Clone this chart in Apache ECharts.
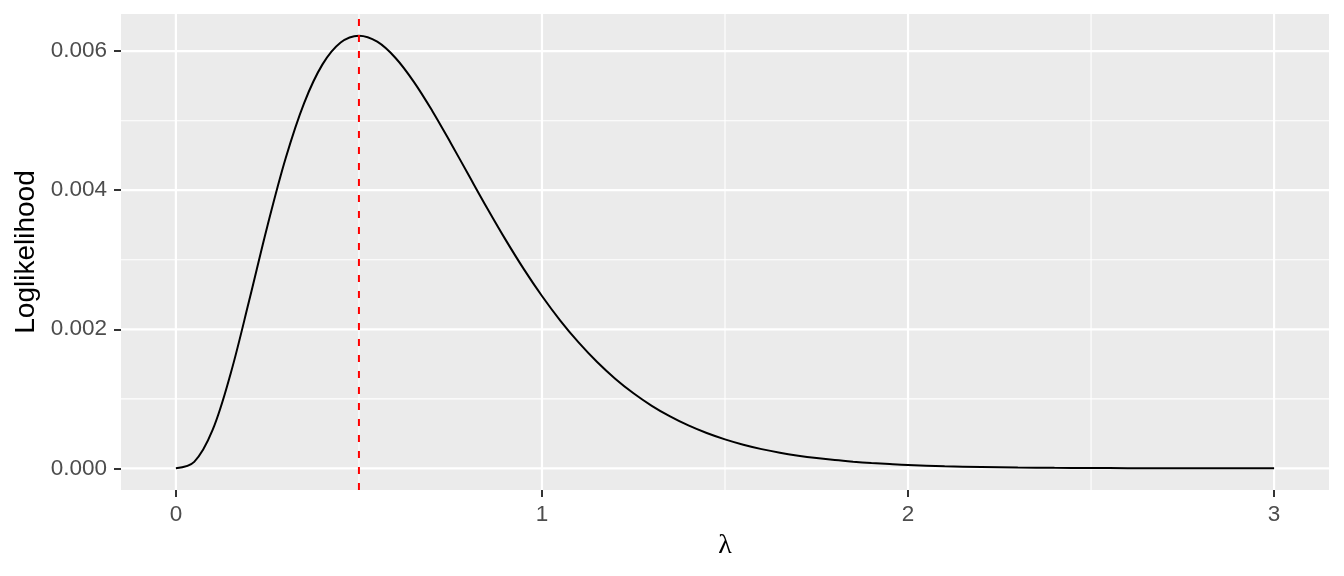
<!DOCTYPE html>
<html>
<head>
<meta charset="utf-8">
<script src="https://cdn.jsdelivr.net/npm/echarts@6/dist/echarts.min.js"></script>
<style>html,body{margin:0;padding:0;background:#fff}#c{width:1344px;height:576px}</style>
</head>
<body>
<div id="c"></div>
<script>
const lambdaValues = [0,0.05,0.1,0.15,0.2,0.25,0.3,0.35,0.4,0.45,0.5,0.55,0.6,0.65,0.7,0.75,0.8,0.85,0.9,0.95,1,1.05,1.1,1.15,1.2,1.25,1.3,1.35,1.4,1.45,1.5,1.55,1.6,1.65,1.7,1.75,1.8,1.85,1.9,1.95,2,2.1,2.2,2.3,2.4,2.5,2.6,2.7,2.8,2.9,3];
const likelihoodValues = [0,0.000093,0.000549,0.001372,0.00241,0.003486,0.004463,0.00525,0.005806,0.006124,0.006223,0.006136,0.005902,0.005559,0.005144,0.004687,0.004214,0.003744,0.003293,0.002869,0.002479,0.002126,0.001811,0.001533,0.00129,0.00108,0.0009,0.000747,0.000617,0.000508,0.000417,0.00034,0.000277,0.000225,0.000183,0.000148,0.000119,0.000096,0.000077,0.000062,0.000049,0.000031,0.00002,0.000012,0.000008,0.000005,0.000003,0.000002,0.000001,0.000001,0];
const xTickValues = [0,1,2,3];
const xMinorValues = [0.5,1.5,2.5];
const yTickValues = [0,0.002,0.004,0.006];
const yMinorValues = [0.001,0.003,0.005];
const mleLambda = 0.5;

const xMin = -0.15, xMax = 3.15;
const yMaxData = Math.max(...likelihoodValues);
const yMin = -0.05*yMaxData, yMax = 1.05*yMaxData;

const chart = echarts.init(document.getElementById('c'), null, {renderer:'canvas'});
const gridSeries = [];
function addGrid(points, w){
  gridSeries.push({type:'line', data:points, z:1, silent:true, symbol:'none', showSymbol:false,
    lineStyle:{color:'#FFFFFF', width:w}, clip:true});
}
xMinorValues.forEach(v => addGrid([[v,yMin],[v,yMax]], 1.1));
yMinorValues.forEach(v => addGrid([[xMin,v],[xMax,v]], 1.1));
xTickValues.forEach(v => addGrid([[v,yMin],[v,yMax]], 2.2));
yTickValues.forEach(v => addGrid([[xMin,v],[xMax,v]], 2.2));

chart.setOption({
  animation:false,
  backgroundColor:'#FFFFFF',
  grid:{left:121, right:15, top:14, bottom:86, show:true, backgroundColor:'#EBEBEB', borderWidth:0},
  xAxis:{
    type:'value', min:xMin, max:xMax,
    name:'λ', nameLocation:'middle', nameGap:42,
    nameTextStyle:{fontFamily:'Liberation Serif', fontSize:28, color:'#000'},
    axisLine:{show:false, onZero:false},
    axisTick:{show:true, length:7, customValues:xTickValues, lineStyle:{color:'#333333', width:2}},
    axisLabel:{customValues:xTickValues, margin:13, fontFamily:'Liberation Sans', fontSize:22.5, color:'#4D4D4D', formatter:v=>String(v)},
    splitLine:{show:false}
  },
  yAxis:{
    type:'value', min:yMin, max:yMax,
    name:'Loglikelihood', nameLocation:'middle', nameGap:81, nameRotate:90,
    nameTextStyle:{fontFamily:'Liberation Sans', fontSize:28, color:'#000'},
    axisLine:{show:false, onZero:false},
    axisTick:{show:true, length:7, customValues:yTickValues, lineStyle:{color:'#333333', width:2}},
    axisLabel:{customValues:yTickValues, margin:14, fontFamily:'Liberation Sans', fontSize:22.5, color:'#4D4D4D', formatter:v=>v.toFixed(3)},
    splitLine:{show:false}
  },
  series:gridSeries.concat([
    {type:'line', z:3, data:lambdaValues.map((x,i)=>[x, likelihoodValues[i]]), showSymbol:false, symbol:'none',
     lineStyle:{color:'#000', width:2}, smooth:0.35},
    {type:'line', z:4, silent:true, symbol:'none', showSymbol:false,
     data:[[mleLambda,yMin],[mleLambda,yMax]],
     lineStyle:{color:'#FF0000', width:2, type:[7,9]}}
  ])
});
</script>
</body>
</html>
